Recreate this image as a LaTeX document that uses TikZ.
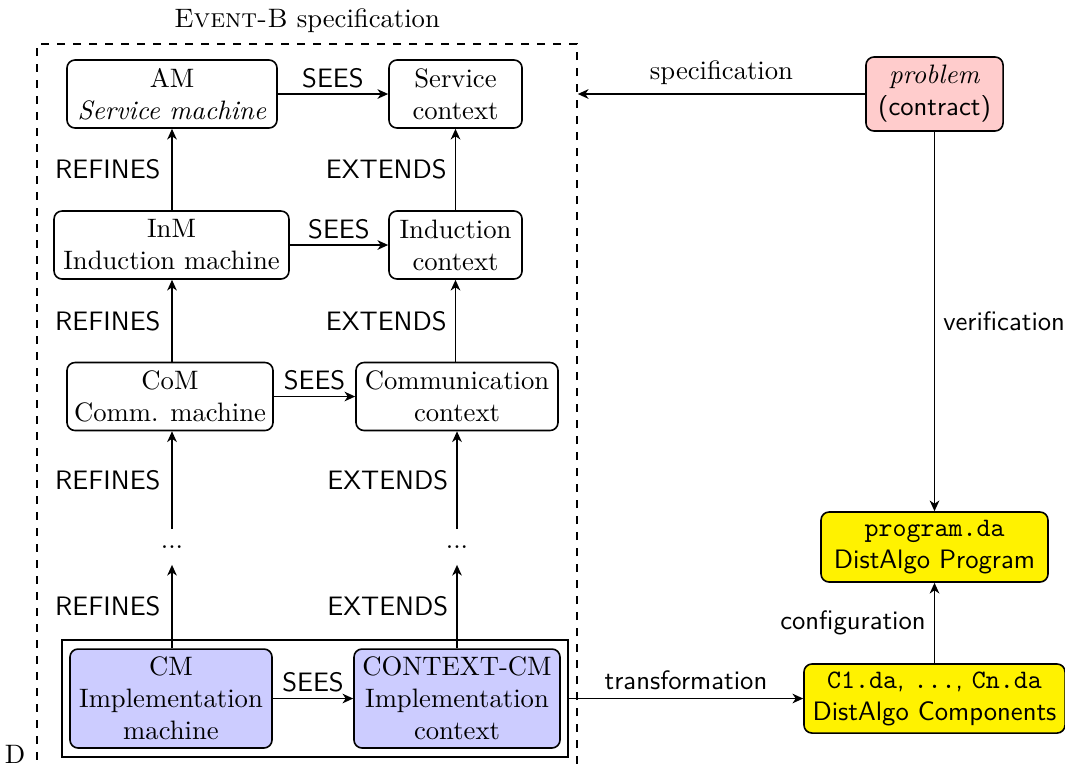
\documentclass[tikz,border=0pt]{standalone}
\usetikzlibrary{arrows.meta}
\begin{document}
\begin{tikzpicture}[x=0.375pt,y=-0.375pt,
  box/.style={draw, semithick, rounded corners=3pt, align=center, inner sep=2pt,
              minimum height=25.5pt},
  arr/.style={semithick, -{Stealth[length=4pt,width=3.6pt,inset=1.2pt]}},
  lbl/.style={font=\sffamily, inner sep=2pt},
  implfill/.style={fill=blue!20},
  dafill/.style={fill=yellow},
  probfill/.style={fill=red!20}]
\useasboundingbox (0,0) rectangle (1065,763);

% Event-B part
\node[draw, dashed, semithick, minimum width=202.5pt, minimum height=283.5pt] (evb) at (307,422) {};
\node[anchor=base] (evbtitle) at (307,27) {\textsc{Event-B} specification};

\node[box, minimum width=78.75pt] (am) at (172,94) {AM\\\textit{Service machine}};
\node[box, minimum width=49.9pt] (sc) at (455.5,94) {Service\\context};
\node[box, minimum width=88.1pt] (inm) at (171.5,245) {InM\\Induction machine};
\node[box, minimum width=49.9pt] (ic) at (455.5,245) {Induction\\context};
\node[box, minimum width=77.25pt] (com) at (170,396.5) {CoM\\Comm. machine};
\node[box, minimum width=75.75pt] (cc) at (457,396.5) {Communication\\context};
\node[minimum height=13pt, inner sep=0pt] (dm) at (172,547) {...};
\node[minimum height=13pt, inner sep=0pt] (dc) at (457,547) {...};

\node[draw, semithick, minimum width=189.75pt, minimum height=43.9pt] (impl) at (315,698.5) {};
\node[box, implfill, minimum width=75.75pt, minimum height=37.1pt] (cm) at (171,698.5) {CM\\Implementation\\machine};
\node[box, implfill, minimum width=77.25pt, minimum height=37.1pt] (ccm) at (457,698.5) {CONTEXT-CM\\Implementation\\context};

\draw[arr] (am) -- node[lbl, above] {SEES} (sc);
\draw[arr] (inm) -- node[lbl, above] {SEES} (ic);
\draw[arr] (com) -- node[lbl, above] {SEES} (cc);
\draw[arr] (cm) -- node[lbl, above] {SEES} (ccm);

\draw[arr] (inm.north -| am) -- node[lbl, left=2pt] {REFINES} (am);
\draw[arr] (com.north -| dm) -- node[lbl, left=2pt] {REFINES} (inm.south -| dm);
\draw[arr] (dm) -- node[lbl, left=2pt] {REFINES} (com.south -| dm);
\draw[arr] (cm.north -| dm) -- node[lbl, left=2pt] {REFINES} (dm);

\draw[arr] (ic) -- node[lbl, left=1pt] {EXTENDS} (sc);
\draw[arr] (cc.north -| ic) -- node[lbl, left=1pt] {EXTENDS} (ic);
\draw[arr] (dc) -- node[lbl, left=1pt] {EXTENDS} (cc);
\draw[arr] (ccm) -- node[lbl, left=1pt] {EXTENDS} (dc);

% DistAlgo side
\node[box, probfill, minimum width=51.4pt, minimum height=27.75pt] (prob) at (934.5,94) {\textit{problem}\\\textsf{(contract)}};
\node[box, dafill, minimum width=85.1pt, minimum height=26.25pt, font=\sffamily] (prog) at (934.5,547) {\texttt{program.da}\\DistAlgo Program};
\node[box, dafill, minimum width=97.9pt, minimum height=25.9pt, font=\sffamily] (comp) at (934.5,698.5) {\texttt{C1.da}, \texttt{...}, \texttt{Cn.da}\\DistAlgo Components};

\draw[arr] (prob.west) -- node[above=0pt] {specification} (prob.west -| evb.east);
\draw[arr] (prob) -- node[lbl, right=1pt] {verification} (prog);
\draw[arr] (comp) -- node[lbl, left=1pt] {configuration} (prog);
\draw[arr] (impl.east |- comp) -- node[lbl, above=1pt] {transformation} (comp);

\node[anchor=base] (dlabel) at (15,763) {D};
\end{tikzpicture}
\end{document}
